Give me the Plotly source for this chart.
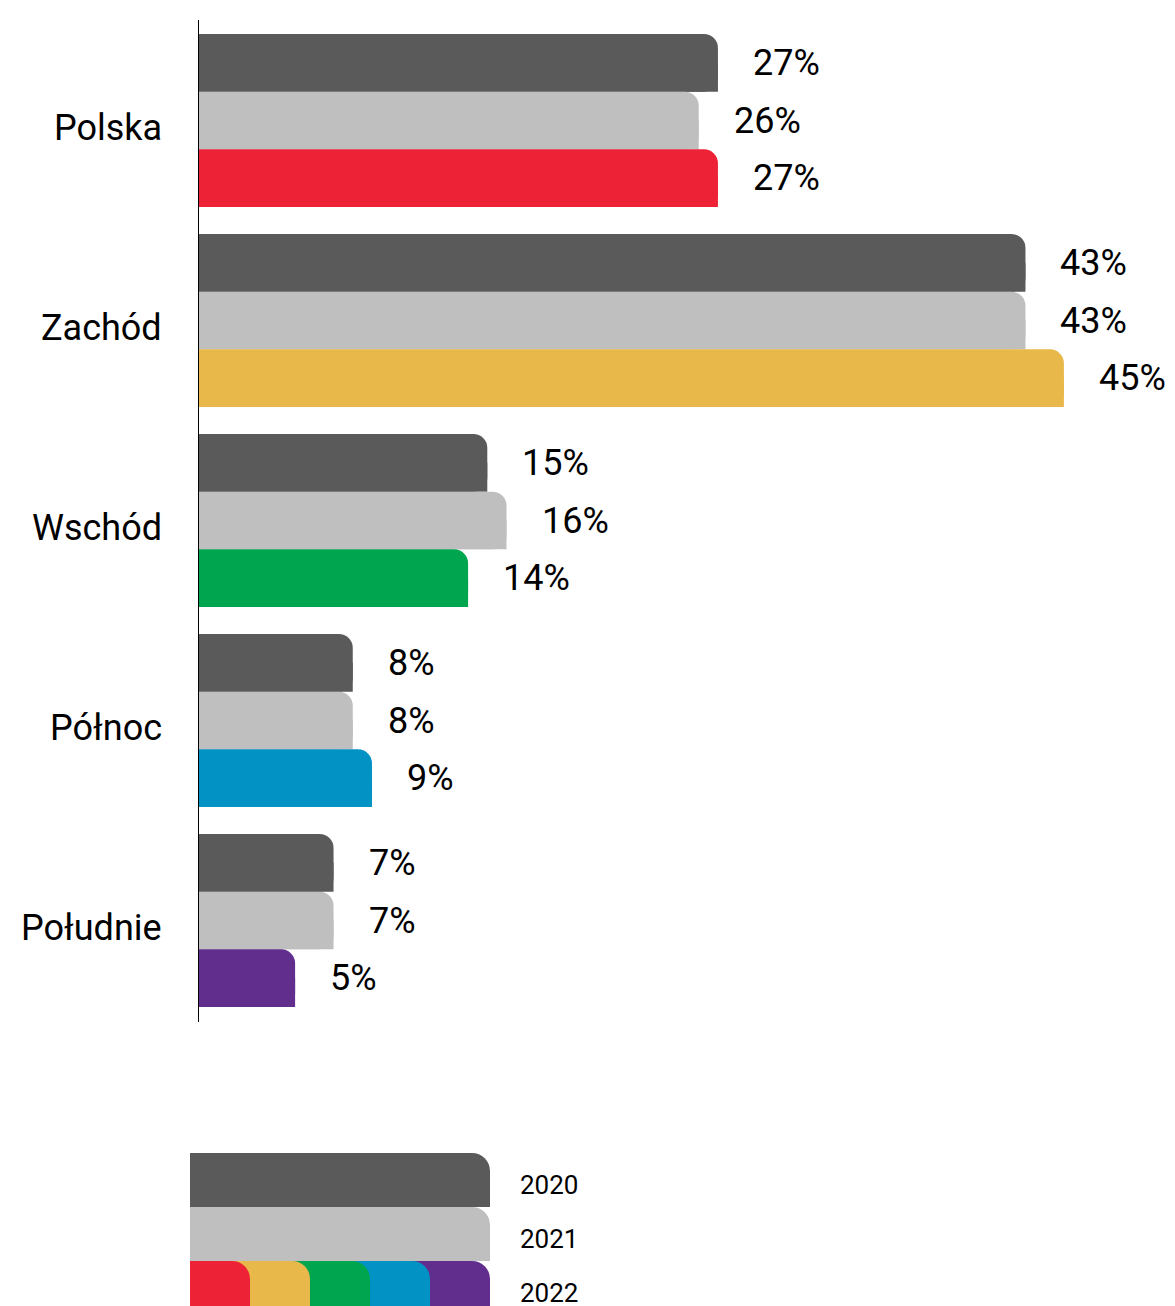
import plotly.graph_objects as go

regions = ["Polska", "Zachód", "Wschód", "Północ", "Południe"]
v2020 = [27, 43, 15, 8, 7]
v2021 = [26, 43, 16, 8, 7]
v2022 = [27, 45, 14, 9, 5]
years = ["2020", "2021", "2022"]

C2020 = "#5A5A5A"
C2021 = "#BFBFBF"
colors_2022 = ["#ED2236", "#E8B84A", "#00A550", "#0392C4", "#622E8E"]

# page offset (default body margin of the html page)
OFF = 8
PAGE_W, PAGE_H = 1175, 1306
W, H = PAGE_W - OFF, PAGE_H - OFF
FONT = "Roboto"
ypos = list(range(len(regions)))
h = 0.28835  # bar thickness in y units
R_MAIN = 14
R_LEG = 18


def fx(px):  # page x pixel -> figure paper fraction
    return (px - OFF) / W


def fy(py):  # page y pixel -> figure paper fraction (from bottom)
    return (H - (py - OFF)) / H


fig = go.Figure()

series = [(v2020, C2020), (v2021, C2021), (v2022, colors_2022)]
for i, (vals, col) in enumerate(series):
    yc = [p + (i - 1) * h for p in ypos]  # bar centre of this series in each group
    fig.add_trace(go.Bar(
        x=vals, y=yc, orientation="h", width=h,
        marker=dict(color=col, cornerradius=R_MAIN, line=dict(width=0)),
        xaxis="x", yaxis="y", showlegend=False, hoverinfo="skip"))
    # square bottom-right corner (lower half of the bar)
    fig.add_trace(go.Bar(
        x=vals, y=yc, orientation="h", width=h / 2, offset=0,
        marker=dict(color=col, line=dict(width=0)),
        xaxis="x", yaxis="y", showlegend=False, hoverinfo="skip"))
    for j, v in enumerate(vals):
        fig.add_annotation(
            x=v, y=yc[j], xref="x", yref="y",
            text=f"{v}%", showarrow=False, xanchor="left", yanchor="middle",
            xshift=33, font=dict(family=FONT, size=36, color="black"))

for j, name in enumerate(regions):
    fig.add_annotation(
        x=0, y=ypos[j], xref="x domain", yref="y", text=name, showarrow=False,
        xanchor="right", yanchor="middle", xshift=-35, yshift=-7,
        font=dict(family=FONT, size=36, color="black"))

# legend built as its own small chart
leg_rows = [0, 1, 2]
n_seg = len(colors_2022)
# (colour, length, row, y-axis); 2022 segments drawn longest first, each on its own overlaid axis
leg_specs = [(C2020, n_seg, 0, "y2"), (C2021, n_seg, 1, "y2")]
seg_axes = ["y2", "y3", "y4", "y5", "y6"]
for n, k in enumerate(range(n_seg - 1, -1, -1)):
    leg_specs.append((colors_2022[k], k + 1, 2, seg_axes[n]))
for col, length, row, ya in leg_specs:
    fig.add_trace(go.Bar(
        x=[length], y=[row + 0.5], orientation="h", width=1,
        marker=dict(color=col, cornerradius=R_LEG, line=dict(width=0)),
        xaxis="x2", yaxis=ya, showlegend=False, hoverinfo="skip"))
    fig.add_trace(go.Bar(
        x=[0.5], y=[row + 0.5], orientation="h", base=length - 0.5, width=0.5, offset=0,
        marker=dict(color=col, line=dict(width=0)),
        xaxis="x2", yaxis=ya, showlegend=False, hoverinfo="skip"))
for row, yr in zip(leg_rows, years):
    fig.add_annotation(
        x=n_seg, y=row + 0.5, xref="x2", yref="y2", text=yr, showarrow=False,
        xanchor="left", yanchor="middle", xshift=28, yshift=-5,
        font=dict(family=FONT, size=26, color="black"))

x0_px = 199
px_per = 19.22
leg_range = [(PAGE_H - 1153) / 54, 0]
layout_axes = {}
for ya in seg_axes[1:]:
    layout_axes["yaxis" + ya[1:]] = dict(overlaying="y2", range=leg_range,
                                         visible=False, anchor="x2")

fig.update_layout(
    width=W, height=H, margin=dict(l=0, r=0, t=0, b=0),
    paper_bgcolor="white", plot_bgcolor="rgba(0,0,0,0)",
    barmode="overlay", showlegend=False,
    font=dict(family=FONT),
    xaxis=dict(domain=[fx(x0_px), 1], range=[0, (PAGE_W - x0_px) / px_per],
               showgrid=False, zeroline=False, showticklabels=False,
               showline=False, fixedrange=True),
    yaxis=dict(domain=[fy(1022), fy(20)], range=[4.5075, -0.5025],
               showticklabels=False, ticks="",
               showgrid=False, zeroline=False, showline=True,
               linecolor="black", linewidth=1, anchor="x", automargin=False),
    xaxis2=dict(domain=[fx(190), fx(490)], range=[0, n_seg], visible=False,
                anchor="y2"),
    yaxis2=dict(domain=[0, fy(1153)], range=leg_range,
                visible=False, anchor="x2"),
    **layout_axes,
)

fig.write_html("out.html")
